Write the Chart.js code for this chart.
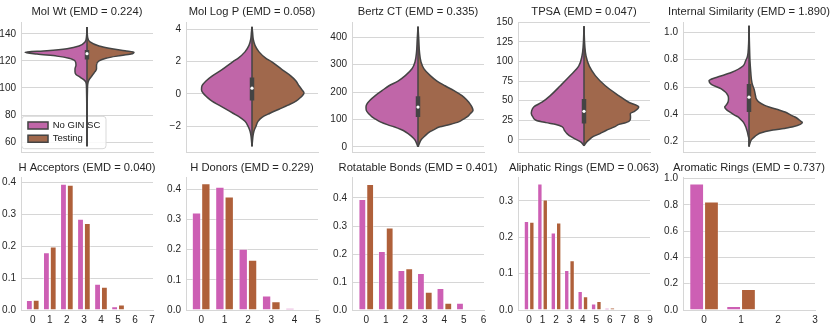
<!DOCTYPE html>
<html>
<head>
<meta charset="utf-8">
<script src="https://cdn.jsdelivr.net/npm/chart.js@4.4.1/dist/chart.umd.min.js"></script>
<style>
  html, body { margin: 0; padding: 0; background: #fff; overflow: hidden; }
  body { width: 830px; height: 330px; position: relative; }
  canvas { position: absolute; }
</style>
</head>
<body>
<canvas id="molwt" width="180" height="156" style="left:-3px;top:0"></canvas>
<canvas id="logp" width="180" height="156" style="left:162px;top:0"></canvas>
<canvas id="bertz" width="180" height="156" style="left:328px;top:0"></canvas>
<canvas id="tpsa" width="180" height="156" style="left:494px;top:0"></canvas>
<canvas id="intsim" width="180" height="156" style="left:659px;top:0"></canvas>
<canvas id="hacc" width="180" height="175" style="left:-3px;top:155px"></canvas>
<canvas id="hdon" width="180" height="175" style="left:162px;top:155px"></canvas>
<canvas id="rot" width="180" height="175" style="left:328px;top:155px"></canvas>
<canvas id="ali" width="180" height="175" style="left:494px;top:155px"></canvas>
<canvas id="aro" width="180" height="175" style="left:659px;top:155px"></canvas>
<script>
// ---- violin data: value levels (top to bottom) and half widths of each density ----
const molWtLevels = [145, 138, 134, 131, 129, 127.5, 126.4, 125, 123.5, 122, 120, 117, 114, 112, 110, 108, 106, 104, 100, 57];
const molWtGin    = [0, 0.5, 2, 8, 20, 40, 62, 50, 30, 18, 12, 11, 12, 12, 11, 7, 3, 1, 0.5, 0];
const molWtTest   = [0, 0.5, 3, 12, 25, 38, 47, 44, 30, 19, 12, 9.5, 9.5, 8, 6, 4, 2, 1, 0.5, 0];
const molWtBox = [121, 128];
const molWtMedian = 125.3;

const logPLevels = [4.15, 3.8, 3.4, 3.0, 2.6, 2.2, 2.0, 1.5, 1.1, 0.8, 0.5, 0.25, 0.05, -0.2, -0.45, -0.7, -0.95, -1.2, -1.45, -1.7, -2.0, -2.3, -2.6, -2.9, -3.25];
const logPGin    = [0, 0.6, 1.2, 3, 7, 14, 19, 30, 40, 46, 50, 50.5, 49, 45, 40, 33, 26, 19, 12, 7, 4, 2, 1, 0.5, 0];
const logPTest   = [0, 0.6, 1.2, 3, 7, 14, 19.5, 30, 39, 44, 47, 50, 52, 49, 44, 36, 27, 18, 10, 6, 4, 2, 1, 0.5, 0];
const logPBox = [-0.41, 1.02];
const logPMedian = 0.35;

const bertzLevels = [439, 390, 345, 310, 285, 260, 240, 223, 205, 187, 170, 157, 145, 133, 120, 109, 100, 91, 80, 73, 63, 55, 40, 25, 13, 0];
const bertzGin    = [0, 0.8, 1.5, 3, 6, 12.7, 20, 29, 36, 42.7, 48, 51, 52, 51.7, 49, 46, 42, 37.7, 30, 24, 17, 12.7, 7, 3, 1.5, 0];
const bertzTest   = [0, 0.8, 1.5, 3, 6, 12.3, 19, 27, 36, 44, 49, 52, 54, 55, 52, 49, 45, 40.7, 30, 22, 16, 12, 7, 3, 1.5, 0];
const bertzBox = [109, 185];
const bertzMedian = 145;

const tpsaLevels = [145, 120, 107, 94, 82, 69, 56.5, 48, 42, 36, 33.5, 29, 25, 22, 19.7, 16.8, 12, 8, 4, 0, -3, -7.5];
const tpsaGin    = [0, 0.8, 2, 5.3, 13.7, 23.7, 33.7, 42, 50.3, 52.5, 52.7, 51, 48, 38, 28, 22, 19.5, 17, 13, 7, 3, 0];
const tpsaTest   = [0, 0.8, 2, 5.3, 11.3, 21.3, 34.7, 44.7, 54.7, 50, 46.3, 46.5, 46, 42, 35, 31, 22, 16, 9, 5, 2.5, 0];
const tpsaBox = [21, 52];
const tpsaMedian = 36.4;

const simLevels = [1.05, 0.9, 0.826, 0.79, 0.754, 0.706, 0.67, 0.646, 0.62, 0.586, 0.537, 0.513, 0.489, 0.465, 0.453, 0.43, 0.417, 0.392, 0.38, 0.356, 0.345, 0.34, 0.308, 0.296, 0.284, 0.26, 0.248, 0.236, 0.22, 0.212, 0.164];
const simGin      = [0, 0.5, 1.5, 3.5, 6, 17.7, 32.7, 40, 37.7, 27.7, 21, 20.5, 21, 23, 24.3, 22, 19.3, 14, 11, 7.5, 6, 5.5, 3.3, 2.7, 2.2, 1.3, 1, 0.6, 0, 0, 0];
const simTest     = [0, 0.5, 0.8, 1, 1.3, 1.8, 2.2, 2.6, 3.3, 5, 6.5, 7.3, 10, 15.7, 20, 30.7, 36, 42.3, 46, 50.7, 52.5, 53.3, 44, 35, 24, 10.7, 8, 5.7, 3.3, 2.3, 0];
const simBox = [0.417, 0.622];
const simMedian = 0.525;

// ---- bar data: category values and fraction of molecules ----
const hAccX    = [0, 1, 2, 3, 4, 5, 6, 7];
const hAccGin  = [0.031, 0.181, 0.396, 0.286, 0.082, 0.012, 0, 0];
const hAccTest = [0.032, 0.199, 0.393, 0.273, 0.073, 0.017, 0, 0];

const hDonX    = [0, 1, 2, 3, 4, 5];
const hDonGin  = [0.323, 0.409, 0.203, 0.048, 0.006, 0];
const hDonTest = [0.42, 0.376, 0.167, 0.029, 0.001, 0];

const rotX    = [0, 1, 2, 3, 4, 5, 6];
const rotGin  = [0.396, 0.211, 0.143, 0.132, 0.079, 0.026, 0];
const rotTest = [0.45, 0.295, 0.149, 0.065, 0.026, 0.001, 0];

const aliX    = [0, 1, 2, 3, 4, 5, 6, 7, 8, 9];
const aliGin  = [0.245, 0.348, 0.213, 0.11, 0.052, 0.018, 0.006, 0, 0, 0];
const aliTest = [0.243, 0.304, 0.241, 0.137, 0.038, 0.025, 0.007, 0, 0, 0];

const aroX    = [0, 1, 2, 3];
const aroGin  = [0.963, 0.03, 0, 0];
const aroTest = [0.825, 0.16, 0.005, 0];

const GIN = 'No GIN SC';
const TEST = 'Testing';
const pinkViolin = '#c066a8', brownViolin = '#a0684c';
const pinkBar = '#cd5fb4', brownBar = '#af603a';
const edge = '#444444';
const gridColor = '#d6d6d6';

Chart.defaults.font.family = '"Liberation Sans", Arial, sans-serif';
Chart.defaults.color = '#262626';
Chart.defaults.animation = false;

function fixY(w) {
    return function(s) { s.width = w; s.paddingTop = 0; s.paddingBottom = 0; };
}
function fixX(h) {
    return function(s) { s.height = h; s.paddingLeft = 0; s.paddingRight = 0; };
}
function tickText(digits) {
    return function(v) { return (digits ? v.toFixed(digits) : String(v)).replace('-', '\u2212'); };
}

// matplotlib style legend frame in the lower left of the plot;
// frame covers the grid, the violin whisker still runs over it
const legendFrame = {
    id: 'legendFrame',
    afterLayout(chart) {
        const lg = chart.legend;
        if (!lg || !lg.options.display) return;
        const a = chart.chartArea;
        lg.left = a.left + 3.1;
        lg.top = a.bottom - 35.2;
        lg.right = lg.left + 90;
        lg.bottom = lg.top + 34;
    },
    beforeDatasetsDraw(chart) {
        const lg = chart.legend;
        if (!lg || !lg.options.display) return;
        const a = chart.chartArea;
        const ctx = chart.ctx;
        ctx.save();
        ctx.beginPath();
        ctx.roundRect(a.left + 0.7, a.bottom - 35.7, 84.3, 32.4, 3);
        ctx.fillStyle = 'rgba(255,255,255,0.85)';
        ctx.fill();
        ctx.strokeStyle = '#d9d9d9';
        ctx.lineWidth = 1;
        ctx.stroke();
        ctx.restore();
        lg.draw();
    }
};

function titleOpts(text, top, bottom) {
    return {
        display: true,
        text: text,
        fullSize: true,
        color: '#262626',
        font: {size: 11.2, weight: 'normal'},
        padding: {top: top, bottom: bottom}
    };
}

function rightPad() {
    return {
        position: 'right', type: 'linear', display: true,
        ticks: {display: false}, grid: {display: false, drawTicks: false},
        border: {display: false}, afterFit: fixY(24)
    };
}

function violin(id, title, levels, gin, test, box, median, yRange, step, digits, withLegend) {
    const half = (w, sign) => levels.map((y, i) => ({x: sign * w[i], y: y}));
    const top = levels[0];
    const bottom = levels[levels.length - 1];
    new Chart(document.getElementById(id), {
        type: 'line',
        data: {
            datasets: [
                {label: GIN, data: half(gin, -1), backgroundColor: pinkViolin, borderColor: edge,
                 borderWidth: 1.5, fill: 'origin', pointRadius: 0, cubicInterpolationMode: 'monotone', order: 3},
                {label: TEST, data: half(test, 1), backgroundColor: brownViolin, borderColor: edge,
                 borderWidth: 1.5, fill: 'origin', pointRadius: 0, cubicInterpolationMode: 'monotone', order: 3},
                {data: [{x: 0, y: top}, {x: 0, y: bottom}], borderColor: edge, borderWidth: 1.5,
                 pointRadius: 0, fill: false, order: 2},
                {data: [{x: 0, y: box[1]}, {x: 0, y: box[0]}], borderColor: edge, borderWidth: 4.5,
                 borderCapStyle: 'butt', pointRadius: 0, fill: false, order: 1},
                {data: [{x: 0, y: median}], showLine: false, pointRadius: 1.6, pointBorderWidth: 0,
                 pointBackgroundColor: '#ffffff', order: 0}
            ]
        },
        options: {
            indexAxis: 'y',
            responsive: false,
            layout: {padding: 0},
            plugins: {
                title: titleOpts(title, 4.9, 3.66),
                legend: withLegend ? {
                    display: true,
                    position: 'chartArea',
                    align: 'start',
                    labels: {
                        boxWidth: 20, boxHeight: 7, padding: 3.9, color: '#262626',
                        font: {size: 9.5},
                        filter: item => !!item.text
                    }
                } : {display: false},
                tooltip: {enabled: false}
            },
            scales: {
                x: {
                    type: 'linear', min: -66, max: 66,
                    ticks: {display: false},
                    grid: {display: false, drawTicks: false},
                    border: {display: true, color: gridColor},
                    afterFit: fixX(2)
                },
                y: {
                    type: 'linear', min: yRange[0], max: yRange[1],
                    ticks: {stepSize: step, includeBounds: false, padding: 5, font: {size: 10}, callback: tickText(digits)},
                    grid: {color: gridColor, drawTicks: false},
                    border: {display: true, color: gridColor},
                    afterFit: fixY(24)
                },
                pad: rightPad()
            }
        },
        plugins: withLegend ? [legendFrame] : []
    });
}

function bars(id, title, xs, gin, test, xRange, yMax, yStep) {
    const pts = vals => xs.map((x, i) => ({x: x, y: vals[i] || null}));
    new Chart(document.getElementById(id), {
        type: 'bar',
        data: {
            datasets: [
                {label: GIN, data: pts(gin), backgroundColor: pinkBar,
                 borderColor: 'rgba(255,255,255,0.45)', borderWidth: 1},
                {label: TEST, data: pts(test), backgroundColor: brownBar,
                 borderColor: 'rgba(255,255,255,0.45)', borderWidth: 1}
            ]
        },
        options: {
            responsive: false,
            layout: {padding: 0},
            categoryPercentage: 0.8,
            barPercentage: 1,
            plugins: {
                title: titleOpts(title, 6.6, 1.96),
                legend: {display: false},
                tooltip: {enabled: false}
            },
            scales: {
                x: {
                    type: 'linear', min: xRange[0], max: xRange[1], offset: false,
                    ticks: {stepSize: 1, includeBounds: false, autoSkip: false, maxRotation: 0,
                            padding: 4, font: {size: 10}},
                    grid: {display: false, drawTicks: false},
                    border: {display: true, color: gridColor},
                    afterFit: fixX(20)
                },
                y: {
                    type: 'linear', min: 0, max: yMax,
                    ticks: {stepSize: yStep, includeBounds: false, padding: 5, font: {size: 10}, callback: tickText(1)},
                    grid: {color: gridColor, drawTicks: false},
                    border: {display: true, color: gridColor},
                    afterFit: fixY(24)
                },
                pad: rightPad()
            }
        }
    });
}

violin('molwt', 'Mol Wt (EMD = 0.224)', molWtLevels, molWtGin, molWtTest, molWtBox, molWtMedian, [52.7, 148.7], 20, 0, true);
violin('logp', 'Mol Log P (EMD = 0.058)', logPLevels, logPGin, logPTest, logPBox, logPMedian, [-3.6, 4.45], 2, 0, false);
violin('bertz', 'Bertz CT (EMD = 0.335)', bertzLevels, bertzGin, bertzTest, bertzBox, bertzMedian, [-19, 456], 100, 0, false);
violin('tpsa', 'TPSA (EMD = 0.047)', tpsaLevels, tpsaGin, tpsaTest, tpsaBox, tpsaMedian, [-15.5, 150.4], 25, 0, false);
violin('intsim', 'Internal Similarity (EMD = 1.890)', simLevels, simGin, simTest, simBox, simMedian, [0.123, 1.077], 0.2, 1, false);

bars('hacc', 'H Acceptors (EMD = 0.040)', hAccX, hAccGin, hAccTest, [-0.69, 7.05], 0.417, 0.1);
bars('hdon', 'H Donors (EMD = 0.229)', hDonX, hDonGin, hDonTest, [-0.65, 5.0], 0.441, 0.1);
bars('rot', 'Rotatable Bonds (EMD = 0.401)', rotX, rotGin, rotTest, [-0.73, 6.03], 0.475, 0.1);
bars('ali', 'Aliphatic Rings (EMD = 0.063)', aliX, aliGin, aliTest, [-0.83, 9.0], 0.366, 0.1);
bars('aro', 'Aromatic Rings (EMD = 0.737)', aroX, aroGin, aroTest, [-0.57, 3.0], 1.012, 0.2);
</script>
</body>
</html>
